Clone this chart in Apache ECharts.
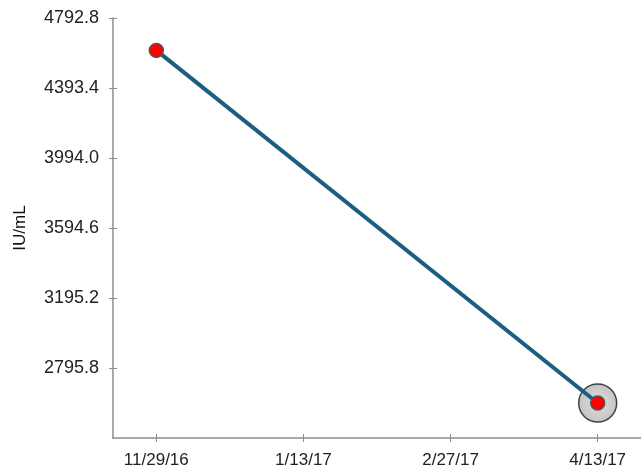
<!DOCTYPE html>
<html>
<head>
<meta charset="utf-8">
<script src="https://cdn.jsdelivr.net/npm/echarts@6/dist/echarts.min.js"></script>
<style>
html,body{margin:0;padding:0;background:#fff;}
#chart{width:641px;height:473px;}
</style>
</head>
<body>
<div id="chart"></div>
<script>
// data
var dates = [new Date(2016, 10, 29).getTime(), new Date(2017, 3, 13).getTime()];
var values = [4608, 2596];
var xTickDates = [new Date(2016, 10, 29).getTime(), new Date(2017, 0, 13).getTime(), new Date(2017, 1, 27).getTime(), new Date(2017, 3, 13).getTime()];
var xTickLabels = ['11/29/16', '1/13/17', '2/27/17', '4/13/17'];
var yTicks = [2795.8, 3195.2, 3594.6, 3994.0, 4393.4, 4792.8];
var yMin = 2396.4, yMax = 4792.8;

var DAY = 86400000;
var xPad = 13.25 * DAY;
var axisGray = '#8c8c8c';

var chart = echarts.init(document.getElementById('chart'));

// the reference ticks cross the axis line, so each axis is drawn twice:
// once with outside ticks + labels, once with inside ticks only
function xAxisCfg(inside){
    return {
        type: 'value',
        position: 'bottom',
        min: dates[0] - xPad,
        max: dates[dates.length - 1] + xPad,
        splitLine: {show: false},
        axisLine: {show: !inside, lineStyle: {color: axisGray, width: 1.5}},
        axisTick: {show: true, inside: inside, length: 4, customValues: xTickDates, lineStyle: {color: axisGray, width: 1}},
        axisLabel: {
            show: !inside,
            customValues: xTickDates,
            margin: 14,
            color: '#222',
            fontSize: 17,
            fontFamily: 'Liberation Sans',
            formatter: function(v){
                var i = xTickDates.indexOf(v);
                return i >= 0 ? xTickLabels[i] : '';
            }
        }
    };
}

function yAxisCfg(inside){
    return {
        type: 'value',
        position: 'left',
        min: yMin,
        max: yMax,
        name: inside ? '' : 'IU/mL',
        nameLocation: 'middle',
        nameGap: 84,
        nameRotate: 90,
        nameTextStyle: {color: '#111', fontSize: 17, fontFamily: 'Liberation Sans'},
        splitLine: {show: false},
        axisLine: {show: !inside, lineStyle: {color: axisGray, width: 1.5}},
        axisTick: {show: true, inside: inside, length: 4, customValues: yTicks, lineStyle: {color: axisGray, width: 1}},
        axisLabel: {
            show: !inside,
            customValues: yTicks,
            margin: 14,
            color: '#222',
            fontSize: 18,
            fontFamily: 'Liberation Sans',
            formatter: function(v){ return v.toFixed(1); }
        }
    };
}

var pts = [];
for (var i = 0; i < dates.length; i++) pts.push([dates[i], values[i]]);
var last = pts[pts.length - 1];

var option = {
    animation: false,
    backgroundColor: '#fff',
    grid: {left: 113, right: 0, top: 18, bottom: 35, containLabel: false},
    xAxis: [xAxisCfg(false), xAxisCfg(true)],
    yAxis: [yAxisCfg(false), yAxisCfg(true)],
    series: [
        {
            // highlight halo on the latest reading
            type: 'scatter',
            data: [last],
            symbolSize: 38,
            z: 1,
            itemStyle: {
                color: {type: 'radial', x: 0.5, y: 0.5, r: 0.5,
                    colorStops: [{offset: 0, color: '#d8d8d8'}, {offset: 1, color: '#b4b4b4'}]},
                borderColor: '#1a1a1a',
                borderWidth: 1.5
            }
        },
        {
            type: 'line',
            data: pts,
            z: 2,
            symbol: 'circle',
            symbolSize: 14,
            lineStyle: {color: '#1b5e80', width: 4},
            itemStyle: {color: '#ff0000', borderColor: '#555', borderWidth: 1.5}
        }
    ]
};
chart.setOption(option);
</script>
</body>
</html>
